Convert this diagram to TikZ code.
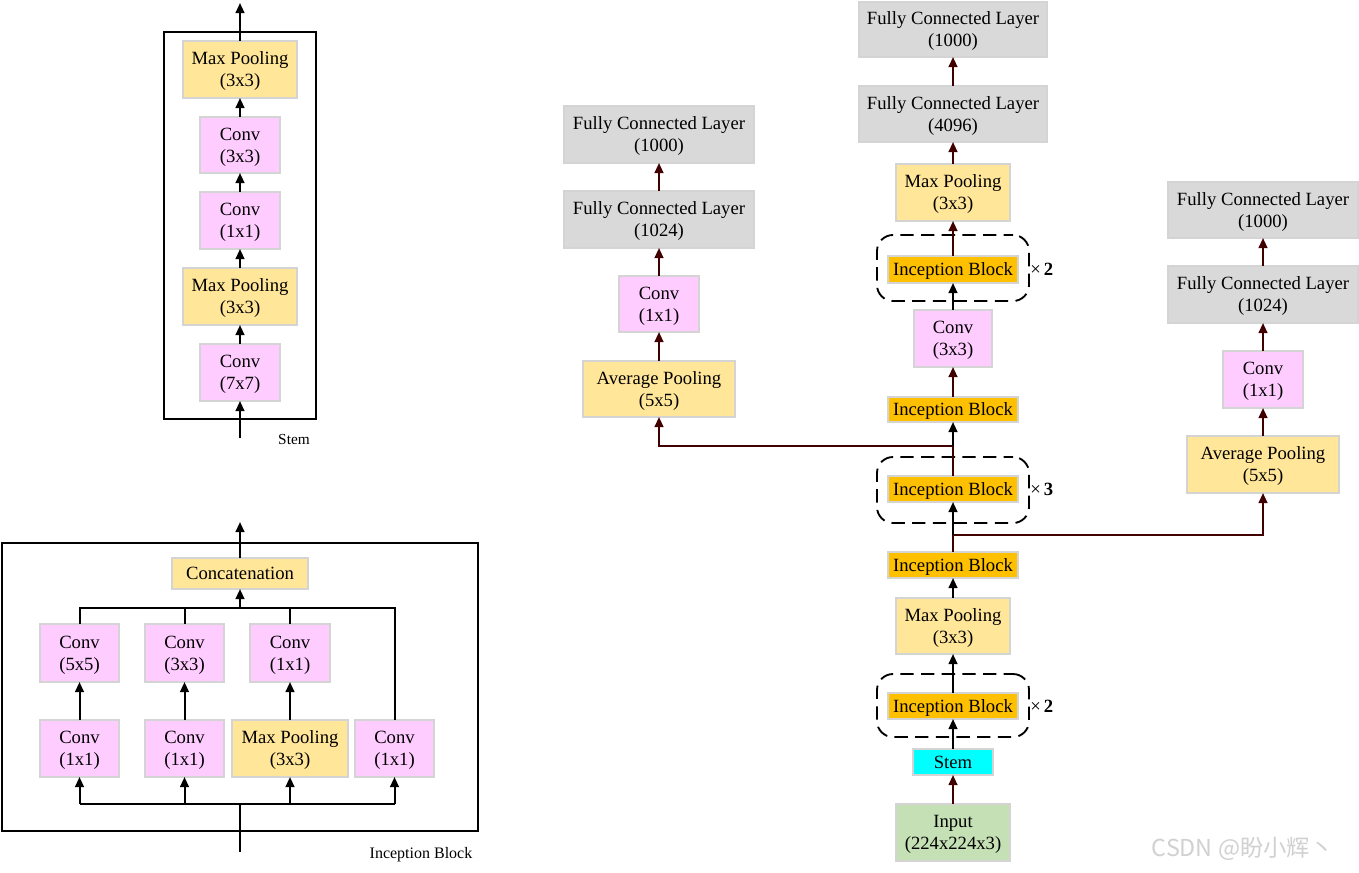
\documentclass[tikz,border=0pt]{standalone}
\usepackage{fontspec}
\setmainfont{Liberation Serif}
\newfontfamily\cjkwm{Noto Sans CJK SC}
\usetikzlibrary{arrows.meta,calc}
\definecolor{convc}{HTML}{FFCCFF}
\definecolor{poolc}{HTML}{FFE699}
\definecolor{fcc}{HTML}{D9D9D9}
\definecolor{incc}{HTML}{FFC000}
\definecolor{stemc}{HTML}{00FFFF}
\definecolor{inc}{HTML}{C5E0B4}
\definecolor{brownc}{RGB}{64,0,0}
\definecolor{edgec}{HTML}{D4D4D4}
\newcommand\Bx[7]{\node[#1, minimum width={(#4-#3)*0.75pt}, minimum height={(#6-#5)*0.75pt}] (#2) at ({(#3+#4)/2},{(#5+#6)/2}) {#7};}
\begin{document}
\begin{tikzpicture}[x=0.75pt, y=-0.75pt,
  box/.style={draw=edgec, line width=0.9pt, inner sep=0pt, outer sep=0pt, align=center, font=\fontsize{14pt}{16.5pt}\selectfont, text depth=0pt},
  conv/.style={box, fill=convc},
  pool/.style={box, fill=poolc},
  fc/.style={box, fill=fcc},
  incb/.style={box, fill=incc},
  stemb/.style={box, fill=stemc},
  inb/.style={box, fill=inc},
  blk/.style={line width=1.5pt, draw=black},
  arr/.style={blk, -{Triangle[length=7.5pt,width=6.5pt]}},
  bln/.style={line width=1.5pt, draw=brownc},
  barr/.style={bln, -{Triangle[length=7.5pt,width=6.5pt]}},
  frame/.style={draw=black, line width=1.7pt, inner sep=0pt, outer sep=0pt},
  group/.style={draw=black, dash pattern=on 10pt off 5.5pt, dash phase=3pt, line width=1.4pt, rounded corners=12pt, inner sep=0pt, outer sep=0pt},
  lbl/.style={font=\fontsize{12pt}{14pt}\selectfont},
  times/.style={font=\fontsize{14pt}{16pt}\selectfont, anchor=west, inner sep=0pt}
]
\fill[white] (0,0) rectangle (1359,872);
\useasboundingbox (0,0) rectangle (1359,872);

% ---------------- Stem detail ----------------
\Bx{frame}{stemframe}{164}{316}{32}{419}{}
\Bx{pool}{smp2}{183}{297}{41}{98}{Max Pooling\\(3x3)}
\Bx{conv}{sc3}{200}{280}{117}{173}{Conv\\(3x3)}
\Bx{conv}{sc1}{200}{280}{192}{249}{Conv\\(1x1)}
\Bx{pool}{smp1}{183}{297}{268}{325}{Max Pooling\\(3x3)}
\Bx{conv}{sc7}{200}{280}{344}{401}{Conv\\(7x7)}
\coordinate (sin) at (240,438);
\coordinate (sout) at (240,3);
\draw[arr] (sin) -- (sc7.south);
\draw[arr] (sc7) -- (smp1);
\draw[arr] (smp1) -- (sc1);
\draw[arr] (sc1) -- (sc3);
\draw[arr] (sc3) -- (smp2);
\draw[arr] (smp2.north) -- (sout);
\node[font=\fontsize{11.5pt}{13pt}\selectfont] (stemlabel) at (294,439) {Stem};

% ---------------- Inception block detail ----------------
\Bx{frame}{ibframe}{2}{478}{543}{831}{}
\Bx{pool}{cat}{172}{308}{558}{589}{Concatenation}
\Bx{conv}{u1}{40}{119}{624}{682}{Conv\\(5x5)}
\Bx{conv}{u2}{145}{224}{624}{682}{Conv\\(3x3)}
\Bx{conv}{u3}{250}{330}{624}{682}{Conv\\(1x1)}
\Bx{conv}{l1}{40}{119}{720}{777}{Conv\\(1x1)}
\Bx{conv}{l2}{145}{224}{720}{777}{Conv\\(1x1)}
\Bx{pool}{l3}{232}{348}{720}{777}{Max Pooling\\(3x3)}
\Bx{conv}{l4}{355}{434}{720}{777}{Conv\\(1x1)}
\coordinate (ibin) at (240,852);
\coordinate (ibsplit) at (240,804);
\coordinate (ibmerge) at (240,608);
\coordinate (ibout) at (240,522);
\draw[blk] (ibin) -- (ibsplit);
\draw[blk] (l1.south |- ibsplit) -- (l4.south |- ibsplit);
\draw[arr] (l1.south |- ibsplit) -- (l1.south);
\draw[arr] (l2.south |- ibsplit) -- (l2.south);
\draw[arr] (l3.south |- ibsplit) -- (l3.south);
\draw[arr] (l4.south |- ibsplit) -- (l4.south);
\draw[arr] (l1) -- (u1);
\draw[arr] (l2) -- (u2);
\draw[arr] (l3) -- (u3);
\draw[blk] (u1.north) -- (u1.north |- ibmerge) -- (l4.north |- ibmerge) -- (l4.north);
\draw[blk] (u2.north) -- (u2.north |- ibmerge);
\draw[blk] (u3.north) -- (u3.north |- ibmerge);
\draw[arr] (ibmerge) -- (cat.south);
\draw[arr] (cat.north) -- (ibout);
\node[lbl] (iblabel) at (421,855) {Inception Block};

% ---------------- Main column ----------------
\Bx{fc}{fc2}{859}{1047}{2}{57}{Fully Connected Layer\\(1000)}
\Bx{fc}{fc1}{859}{1047}{86}{142}{Fully Connected Layer\\(4096)}
\Bx{pool}{mp2}{896}{1010}{164}{221}{Max Pooling\\(3x3)}
\Bx{group}{g3}{877}{1029}{235}{301}{}
\Bx{incb}{ib5}{888}{1018}{256}{283}{Inception Block}
\Bx{conv}{cv}{914}{992}{310}{367}{Conv\\(3x3)}
\Bx{incb}{ib4}{888}{1018}{397}{422}{Inception Block}
\Bx{group}{g2}{877}{1029}{457}{523}{}
\Bx{incb}{ib3}{888}{1018}{476}{502}{Inception Block}
\Bx{incb}{ib2}{888}{1018}{552}{578}{Inception Block}
\Bx{pool}{mp1}{896}{1010}{598}{654}{Max Pooling\\(3x3)}
\Bx{group}{g1}{877}{1029}{674}{737}{}
\Bx{incb}{ib1}{888}{1018}{693}{719}{Inception Block}
\Bx{stemb}{stem}{913}{993}{749}{775}{Stem}
\Bx{inb}{inp}{896}{1010}{804}{861}{Input\\(224x224x3)}
\node[times] (x3) at (1030,269) {×\,\textbf{2}};
\node[times] (x2) at (1030,489) {×\,\textbf{3}};
\node[times] (x1) at (1030,706) {×\,\textbf{2}};

% ---------------- Left auxiliary branch ----------------
\Bx{fc}{lfc2}{564}{754}{106}{163}{Fully Connected Layer\\(1000)}
\Bx{fc}{lfc1}{564}{754}{191}{248}{Fully Connected Layer\\(1024)}
\Bx{conv}{lcv}{619}{699}{276}{332}{Conv\\(1x1)}
\Bx{pool}{lap}{583}{735}{361}{417}{Average Pooling\\(5x5)}

% ---------------- Right auxiliary branch ----------------
\Bx{fc}{rfc2}{1168}{1358}{182}{238}{Fully Connected Layer\\(1000)}
\Bx{fc}{rfc1}{1168}{1358}{266}{323}{Fully Connected Layer\\(1024)}
\Bx{conv}{rcv}{1223}{1303}{351}{408}{Conv\\(1x1)}
\Bx{pool}{rap}{1187}{1339}{436}{493}{Average Pooling\\(5x5)}

% ---------------- Connectors ----------------
\coordinate (br) at (953,535);
\coordinate (bl) at (953,446);
\draw[barr] (inp) -- (stem);
\draw[arr] (stem) -- (ib1);
\draw[arr] (ib1) -- (mp1);
\draw[arr] (mp1) -- (ib2);
\draw[barr] (ib2.north) -- (br) -| (rap.south);
\draw[arr] (br) -- (ib3.south);
\draw[barr] (ib3.north) -- (bl) -| (lap.south);
\draw[arr] (bl) -- (ib4.south);
\draw[barr] (ib4) -- (cv);
\draw[arr] (cv) -- (ib5);
\draw[barr] (ib5) -- (mp2);
\draw[barr] (mp2) -- (fc1);
\draw[barr] (fc1) -- (fc2);
\draw[barr] (lap) -- (lcv);
\draw[barr] (lcv) -- (lfc1);
\draw[barr] (lfc1) -- (lfc2);
\draw[barr] (rap) -- (rcv);
\draw[barr] (rcv) -- (rfc1);
\draw[barr] (rfc1) -- (rfc2);

\node[font=\cjkwm\fontsize{17.5pt}{20pt}\selectfont, text=black!18, anchor=west] (wm) at (1147,849) {CSDN @盼小辉丶};
\end{tikzpicture}
\end{document}
